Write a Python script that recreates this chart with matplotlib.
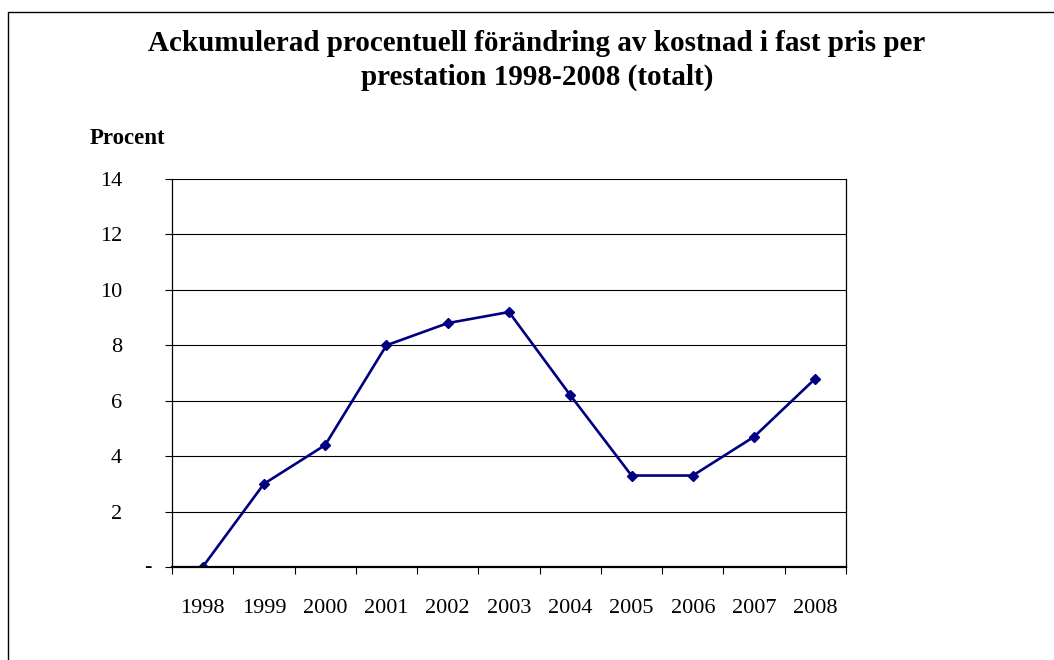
import matplotlib
matplotlib.use("Agg")
import matplotlib.pyplot as plt
from matplotlib.lines import Line2D

# data
years = ["1998", "1999", "2000", "2001", "2002", "2003", "2004", "2005", "2006", "2007", "2008"]
procent = [0.0, 3.0, 4.4, 8.0, 8.8, 9.2, 6.2, 3.3, 3.3, 4.7, 6.8]
yticks = [0, 2, 4, 6, 8, 10, 12, 14]
ytick_labels = ["", "2", "4", "6", "8", "10", "12", "14"]

plt.rcParams['font.family'] = ['Liberation Serif', 'DejaVu Serif']

fig = plt.figure(figsize=(10.54, 6.6), dpi=100)
ax = fig.add_axes([172/1054, 1-567/660, 674/1054, 388/660])

x = list(range(len(years)))
ax.plot(x, procent, color='#000080', lw=1.9, marker='D', ms=5)

ax.set_xlim(-0.5, len(years) - 0.5)
ax.set_ylim(0, 14)

# tick marks between categories, labels at centre
ax.set_xticks([i - 0.5 for i in range(len(years) + 1)])
ax.set_xticklabels([])
ax.set_xticks(x, minor=True)
ax.set_xticklabels(years, minor=True, fontsize=16)
ax.tick_params(axis='x', which='major', direction='out', length=5, width=0.8)
ax.tick_params(axis='x', which='minor', length=0, pad=23)

ax.set_yticks(yticks)
ax.set_yticklabels(ytick_labels, fontsize=16)
ax.tick_params(axis='y', direction='out', length=5, width=0.8, pad=31)
# the "-" for zero sits further right, like Excel
ax.text(-0.031, 0, "-", transform=ax.get_yaxis_transform(), ha='right', va='center', fontsize=16)

ax.grid(axis='y', color='black', lw=0.8)
ax.set_axisbelow(True)
ax.spines['top'].set_visible(False)
ax.spines['bottom'].set_linewidth(1.6)
ax.spines['left'].set_linewidth(0.9)
ax.spines['right'].set_linewidth(0.9)

fig.text(537/1054, 1-30/660,
         "Ackumulerad procentuell förändring av kostnad i fast pris per\nprestation 1998-2008 (totalt)",
         ha='center', va='top', fontsize=21, fontweight='bold', linespacing=1.33)
fig.text(90/1054, 1-138/660, "Procent", ha='left', va='center', fontsize=16.5, fontweight='bold')

# outer frame (only top and left visible)
fig.add_artist(Line2D([8/1054, 8/1054, 1.0], [0.0, 1-12/660, 1-12/660],
                      transform=fig.transFigure, color='black', lw=1.0))

fig.savefig("out.png", dpi=100)
